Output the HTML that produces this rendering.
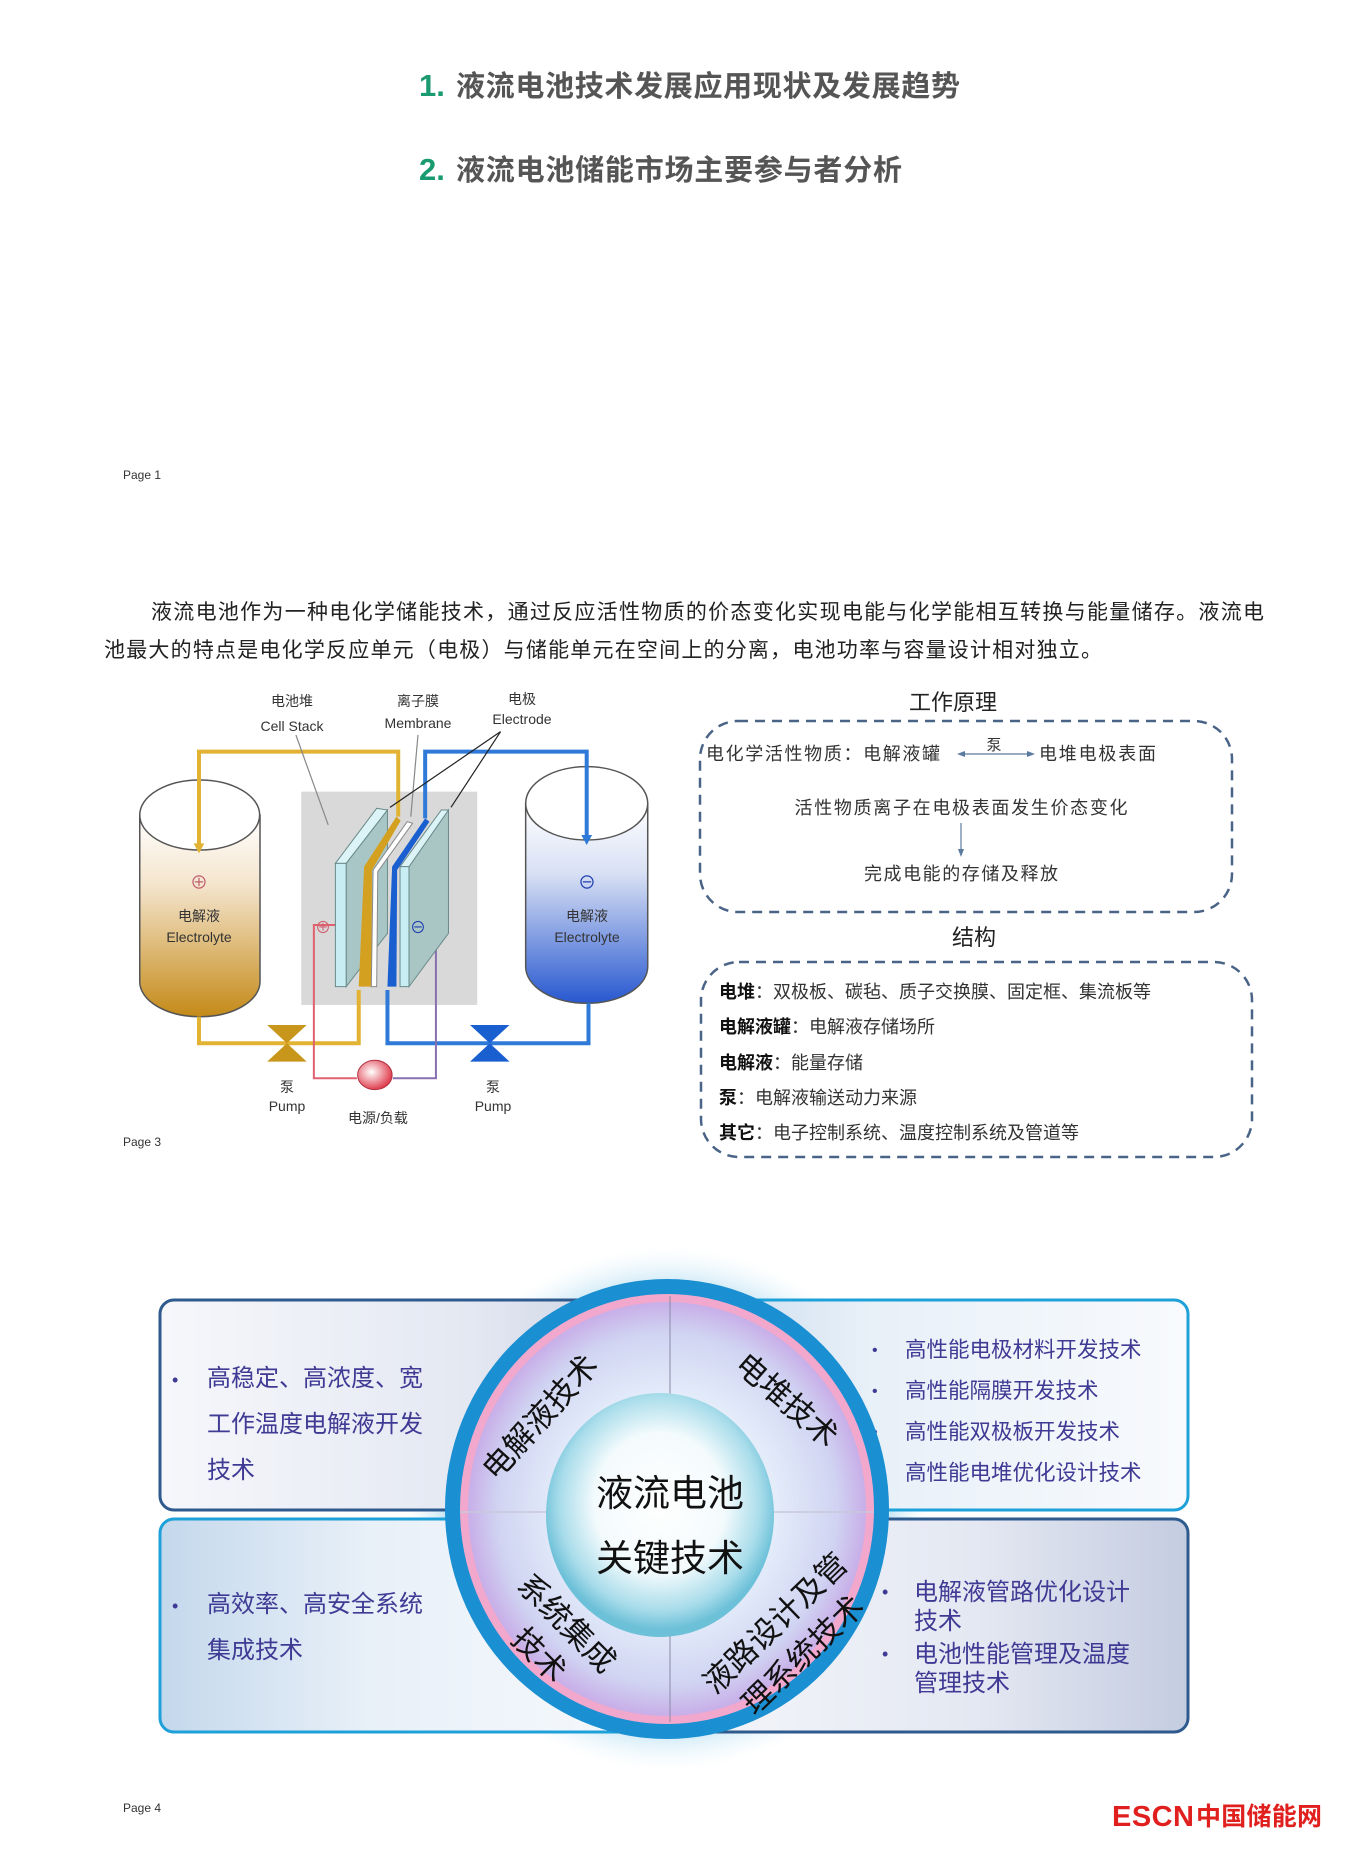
<!DOCTYPE html>
<html><head><meta charset="utf-8"><style>
html,body{margin:0;padding:0;background:#fff;}
svg{display:block;}
text{font-family:"Liberation Sans","Noto Sans CJK SC",sans-serif;}
</style></head><body>
<svg width="1348" height="1856" viewBox="0 0 1348 1856" xmlns="http://www.w3.org/2000/svg">
<defs>
<linearGradient id="tankL" x1="0" y1="0" x2="0" y2="1"><stop offset="0" stop-color="#fff"/><stop offset="0.35" stop-color="#f4e4cc"/><stop offset="1" stop-color="#c48a18"/></linearGradient>
<linearGradient id="tankR" x1="0" y1="0" x2="0" y2="1"><stop offset="0" stop-color="#fff"/><stop offset="0.35" stop-color="#d8e0f4"/><stop offset="1" stop-color="#2858d0"/></linearGradient>
<radialGradient id="load" cx="0.4" cy="0.4" r="0.6"><stop offset="0" stop-color="#fff"/><stop offset="1" stop-color="#e04050"/></radialGradient>
<linearGradient id="boxL" x1="0" y1="0" x2="1" y2="0"><stop offset="0" stop-color="#f6f7fb"/><stop offset="0.6" stop-color="#e4e8f2"/><stop offset="1" stop-color="#c4cce0"/></linearGradient>
<linearGradient id="boxR" x1="0" y1="0" x2="1" y2="0"><stop offset="0" stop-color="#c4d8ec"/><stop offset="0.4" stop-color="#e8f0f8"/><stop offset="1" stop-color="#f8fafd"/></linearGradient>
<radialGradient id="halo" cx="0.5" cy="0.5" r="0.5"><stop offset="0.8" stop-color="#a8d8f0"/><stop offset="1" stop-color="#e8f5fb" stop-opacity="0"/></radialGradient>
<radialGradient id="lav" cx="0.5" cy="0.5" r="0.5"><stop offset="0.55" stop-color="#e4ecfa"/><stop offset="0.85" stop-color="#d0d4f2"/><stop offset="1" stop-color="#c8aee8"/></radialGradient>
<radialGradient id="sph" cx="0.5" cy="0.45" r="0.52"><stop offset="0" stop-color="#ffffff"/><stop offset="0.55" stop-color="#f4fbfd"/><stop offset="0.85" stop-color="#a8dcea"/><stop offset="1" stop-color="#6cc0d8"/></radialGradient>
</defs>

<!-- Page 1 -->
<text x="419" y="96" font-size="31" font-weight="bold" fill="#1a9a70">1.</text>
<text x="456" y="96" font-size="29" font-weight="bold" fill="#555" textLength="504">液流电池技术发展应用现状及发展趋势</text>
<text x="419" y="180" font-size="31" font-weight="bold" fill="#1a9a70">2.</text>
<text x="456" y="180" font-size="29" font-weight="bold" fill="#555" textLength="446">液流电池储能市场主要参与者分析</text>
<text x="123" y="479" font-size="12" fill="#333">Page 1</text>

<!-- paragraph -->
<text x="151" y="619" font-size="21" fill="#222" textLength="1113">液流电池作为一种电化学储能技术，通过反应活性物质的价态变化实现电能与化学能相互转换与能量储存。液流电</text>
<text x="104" y="657" font-size="21" fill="#222" textLength="998">池最大的特点是电化学反应单元（电极）与储能单元在空间上的分离，电池功率与容量设计相对独立。</text>

<!-- battery diagram -->
<g transform="translate(120,670) scale(0.359,0.3333)">
 <rect x="505" y="365" width="490" height="640" fill="#d9d9d9"/>
 <!-- tanks -->
 <path d="M55,435 L55,935 A167,105 0 0 0 390,935 L390,435 Z" fill="url(#tankL)" stroke="#555" stroke-width="1.5" vector-effect="non-scaling-stroke"/>
 <ellipse cx="222" cy="435" rx="167" ry="105" fill="#fff" stroke="#555" stroke-width="1.5" vector-effect="non-scaling-stroke"/>
 <path d="M1130,400 L1130,890 A170,110 0 0 0 1470,890 L1470,400 Z" fill="url(#tankR)" stroke="#555" stroke-width="1.5" vector-effect="non-scaling-stroke"/>
 <ellipse cx="1300" cy="400" rx="170" ry="110" fill="#fff" stroke="#555" stroke-width="1.5" vector-effect="non-scaling-stroke"/>
 <!-- pipes -->
 <g fill="none" stroke-width="4" vector-effect="non-scaling-stroke">
  <polyline points="220,530 220,245 775,245 775,440" stroke="#e2b232" vector-effect="non-scaling-stroke"/>
  <polyline points="220,1040 220,1120 665,1120 665,960" stroke="#e2b232" vector-effect="non-scaling-stroke"/>
  <polyline points="850,445 850,245 1300,245 1300,500" stroke="#2f7ad8" vector-effect="non-scaling-stroke"/>
  <polyline points="745,960 745,1120 1305,1120 1305,1000" stroke="#2f7ad8" vector-effect="non-scaling-stroke"/>
  <polyline points="600,765 540,765 540,1225 660,1225" stroke="#e06070" stroke-width="2" vector-effect="non-scaling-stroke"/>
  <polyline points="760,1225 880,1225 880,765 820,765" stroke="#8870b0" stroke-width="2" vector-effect="non-scaling-stroke"/>
 </g>
 <polygon points="205,520 235,520 220,550" fill="#e2b232"/>
 <polygon points="1285,495 1315,495 1300,525" fill="#2f7ad8"/>
 <!-- plates -->
 <polygon points="630,580 745,420 745,790 630,950" fill="#a9c6c6" stroke="#6a8a8a" stroke-width="1" vector-effect="non-scaling-stroke"/>
 <polygon points="600,580 715,415 745,420 630,580" fill="#dcf4f8" stroke="#6a8a8a" stroke-width="1" vector-effect="non-scaling-stroke"/>
 <rect x="600" y="580" width="30" height="370" fill="#c8eef4" stroke="#6a8a8a" stroke-width="1" vector-effect="non-scaling-stroke"/>
 <polygon points="665,950 680,590 770,440 782,452 702,600 700,950" fill="#d4a020"/>
 <polygon points="700,950 705,600 800,455 815,460 718,605 715,950" fill="#fff" stroke="#888" stroke-width="1" vector-effect="non-scaling-stroke"/>
 <polygon points="745,950 758,590 850,445 862,455 772,600 770,950" fill="#1a5fd0"/>
 <polygon points="805,590 915,420 915,790 805,950" fill="#a9c6c4" stroke="#6a8a8a" stroke-width="1" vector-effect="non-scaling-stroke"/>
 <polygon points="780,590 895,420 915,420 805,590" fill="#dcf4f8" stroke="#6a8a8a" stroke-width="1" vector-effect="non-scaling-stroke"/>
 <rect x="780" y="590" width="25" height="360" fill="#c8eef4" stroke="#6a8a8a" stroke-width="1" vector-effect="non-scaling-stroke"/>
 <!-- pointer lines -->
 <g fill="none" stroke-width="1.2" vector-effect="non-scaling-stroke">
  <line x1="490" y1="195" x2="580" y2="465" stroke="#888" vector-effect="non-scaling-stroke"/>
  <line x1="830" y1="195" x2="810" y2="440" stroke="#888" vector-effect="non-scaling-stroke"/>
  <line x1="1060" y1="185" x2="752" y2="412" stroke="#222" vector-effect="non-scaling-stroke"/>
  <line x1="1060" y1="185" x2="922" y2="412" stroke="#222" vector-effect="non-scaling-stroke"/>
 </g>
 <!-- valves -->
 <polygon points="410,1065 520,1065 465,1120 520,1175 410,1175 465,1120" fill="#c8961a"/>
 <polygon points="975,1065 1085,1065 1030,1120 1085,1175 975,1175 1030,1120" fill="#1a5fd0"/>
 <ellipse cx="710" cy="1215" rx="48" ry="44" fill="url(#load)" stroke="#b03040" stroke-width="1" vector-effect="non-scaling-stroke"/>
</g>
<g font-size="14" fill="#333" text-anchor="middle">
 <text x="292" y="706">电池堆</text><text x="292" y="731">Cell Stack</text>
 <text x="418" y="706">离子膜</text><text x="418" y="728">Membrane</text>
 <text x="522" y="704">电极</text><text x="522" y="724">Electrode</text>
 <text x="199" y="889" font-size="18" fill="#c06070">⊕</text>
 <text x="199" y="921">电解液</text><text x="199" y="942">Electrolyte</text>
 <text x="587" y="889" font-size="18" fill="#2040b0">⊖</text>
 <text x="587" y="921">电解液</text><text x="587" y="942">Electrolyte</text>
 <text x="323" y="933" font-size="16" fill="#d06070">⊕</text>
 <text x="418" y="933" font-size="16" fill="#2040b0">⊖</text>
 <text x="287" y="1092">泵</text><text x="287" y="1111">Pump</text>
 <text x="493" y="1092">泵</text><text x="493" y="1111">Pump</text>
 <text x="378" y="1123">电源/负载</text>
</g>
<text x="123" y="1146" font-size="12" fill="#333">Page 3</text>

<!-- right text boxes -->
<text x="953" y="710" font-size="22" fill="#222" text-anchor="middle">工作原理</text>
<rect x="700" y="721" width="532" height="191" rx="38" fill="none" stroke="#4a6488" stroke-width="2.5" stroke-dasharray="10,7"/>
<g font-size="18" fill="#333">
 <text x="706" y="760" textLength="234">电化学活性物质：电解液罐</text>
 <text x="1039" y="760" textLength="117">电堆电极表面</text>
 <text x="994" y="750" font-size="15" text-anchor="middle">泵</text>
 <text x="961" y="814" text-anchor="middle" textLength="333">活性物质离子在电极表面发生价态变化</text>
 <text x="961" y="880" text-anchor="middle" textLength="194">完成电能的存储及释放</text>
</g>
<line x1="962" y1="754" x2="1030" y2="754" stroke="#5a7aa0" stroke-width="1.2"/>
<polygon points="957,754 965,751 965,757" fill="#5a7aa0"/><polygon points="1035,754 1027,751 1027,757" fill="#5a7aa0"/>
<line x1="961" y1="823" x2="961" y2="852" stroke="#5a7aa0" stroke-width="1.2"/>
<polygon points="961,857 958,849 964,849" fill="#5a7aa0"/>

<text x="974" y="945" font-size="22" fill="#222" text-anchor="middle">结构</text>
<rect x="701" y="962" width="551" height="195" rx="38" fill="none" stroke="#4a6488" stroke-width="2.5" stroke-dasharray="10,7"/>
<g font-size="18" fill="#333">
 <text x="719" y="998"><tspan font-weight="bold" fill="#111">电堆</tspan>：双极板、碳毡、质子交换膜、固定框、集流板等</text>
 <text x="719" y="1033"><tspan font-weight="bold" fill="#111">电解液罐</tspan>：电解液存储场所</text>
 <text x="719" y="1069"><tspan font-weight="bold" fill="#111">电解液</tspan>：能量存储</text>
 <text x="719" y="1104"><tspan font-weight="bold" fill="#111">泵</tspan>：电解液输送动力来源</text>
 <text x="719" y="1139"><tspan font-weight="bold" fill="#111">其它</tspan>：电子控制系统、温度控制系统及管道等</text>
</g>

<!-- key technology section -->
<circle cx="667" cy="1509" r="262" fill="url(#halo)"/>
<rect x="160" y="1300" width="520" height="210" rx="14" fill="url(#boxL)" stroke="#2e5a8e" stroke-width="3"/>
<rect x="660" y="1300" width="528" height="210" rx="14" fill="url(#boxR)" stroke="#1ea0d8" stroke-width="3"/>
<rect x="160" y="1519" width="520" height="213" rx="14" fill="url(#boxR)" stroke="#1ea0d8" stroke-width="3"/>
<rect x="660" y="1519" width="528" height="213" rx="14" fill="url(#boxL)" stroke="#2e5a8e" stroke-width="3"/>
<g font-size="24" fill="#3f3a94">
 <text x="172" y="1386" font-size="18">•</text>
 <text x="207" y="1386">高稳定、高浓度、宽</text>
 <text x="207" y="1432">工作温度电解液开发</text>
 <text x="207" y="1478">技术</text>
 <text x="172" y="1612" font-size="18">•</text>
 <text x="207" y="1612">高效率、高安全系统</text>
 <text x="207" y="1658">集成技术</text>
</g>
<g font-size="21.5" fill="#3f3a94">
 <text x="872" y="1355" font-size="16">•</text><text x="905" y="1357">高性能电极材料开发技术</text>
 <text x="872" y="1396" font-size="16">•</text><text x="905" y="1398">高性能隔膜开发技术</text>
 <text x="872" y="1437" font-size="16">•</text><text x="905" y="1439">高性能双极板开发技术</text>
 <text x="872" y="1478" font-size="16">•</text><text x="905" y="1480">高性能电堆优化设计技术</text>
</g>
<g font-size="24" fill="#3f3a94">
 <text x="882" y="1598" font-size="18">•</text><text x="914" y="1600">电解液管路优化设计</text>
 <text x="914" y="1629">技术</text>
 <text x="882" y="1660" font-size="18">•</text><text x="914" y="1662">电池性能管理及温度</text>
 <text x="914" y="1691">管理技术</text>
</g>

<ellipse cx="667" cy="1509" rx="222" ry="230" fill="#1a8fd2"/>
<ellipse cx="667" cy="1509" rx="207" ry="215" fill="#f2a8cc"/>
<ellipse cx="667" cy="1509" rx="199" ry="207" fill="url(#lav)"/>
<line x1="670" y1="1296" x2="670" y2="1722" stroke="#8a8aa8" stroke-width="1"/>
<line x1="460" y1="1512" x2="874" y2="1512" stroke="#c8c8dc" stroke-width="1.5"/>
<ellipse cx="660" cy="1515" rx="114" ry="122" fill="url(#sph)"/>
<g font-size="37" fill="#111" text-anchor="middle">
 <text x="670" y="1506">液流电池</text>
 <text x="670" y="1571">关键技术</text>
</g>
<g font-size="31" fill="#111" text-anchor="middle">
 <text transform="translate(540,1417) rotate(-48)" y="11">电解液技术</text>
 <text transform="translate(787,1400) rotate(41)" y="11">电堆技术</text>
 <g transform="translate(567,1623) rotate(45)"><text y="11">系统集成</text><text x="3" y="53">技术</text></g>
 <g transform="translate(775,1623) rotate(-44)"><text y="11">液路设计及管</text><text x="-2" y="53">理系统技术</text></g>
</g>

<text x="123" y="1812" font-size="12" fill="#333">Page 4</text>
<text x="1112" y="1826" font-size="29" font-weight="bold" fill="#e0201e" textLength="82">ESCN</text>
<text x="1196" y="1825" font-size="25" font-weight="bold" fill="#e0201e" textLength="126">中国储能网</text>
</svg>
</body></html>
